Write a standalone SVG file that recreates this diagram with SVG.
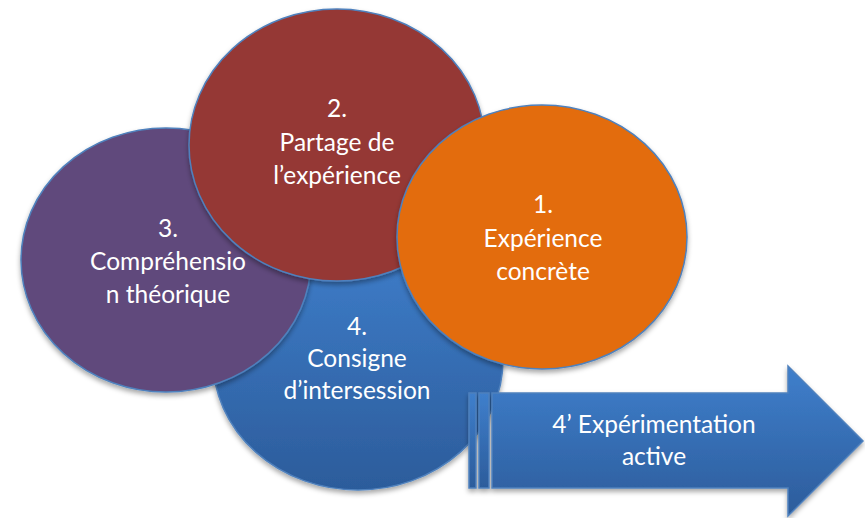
<svg xmlns="http://www.w3.org/2000/svg" width="865" height="518" viewBox="0 0 865 518">
<defs>
<linearGradient id="blueGrad" x1="0" y1="0" x2="0" y2="1">
<stop offset="0" stop-color="#3F7FCC"/>
<stop offset="1" stop-color="#2C5C9B"/>
</linearGradient>
<filter id="shadow" x="-10%" y="-10%" width="120%" height="125%">
<feDropShadow dx="0" dy="3" stdDeviation="2.5" flood-color="#000" flood-opacity="0.35"/>
</filter>
<style>
.shape{stroke:#4F81BD;stroke-width:1.5;filter:url(#shadow)}
.lbl{font-family:Lato,"Open Sans","Liberation Sans",sans-serif;font-size:24.5px;fill:#FFFFFF;text-anchor:middle}
</style>
</defs>
<rect width="865" height="518" fill="#FFFFFF"/>
<g id="node4">
<ellipse class="shape" cx="358" cy="360" rx="145" ry="130" fill="url(#blueGrad)"/>
<text class="lbl" x="357" y="335">4.</text>
<text class="lbl" x="357" y="367">Consigne</text>
<text class="lbl" x="357" y="399">d’intersession</text>
</g>
<g id="node3">
<ellipse class="shape" cx="166" cy="260" rx="145" ry="132" fill="#604A7B"/>
<text class="lbl" x="168" y="237">3.</text>
<text class="lbl" x="168" y="270">Compréhensio</text>
<text class="lbl" x="168" y="303">n théorique</text>
</g>
<g id="node2">
<ellipse class="shape" cx="337" cy="145" rx="148" ry="136" fill="#953735"/>
<text class="lbl" x="337" y="117">2.</text>
<text class="lbl" x="337" y="151">Partage de</text>
<text class="lbl" x="337" y="184">l’expérience</text>
</g>
<g id="node1">
<ellipse class="shape" cx="542" cy="237" rx="145" ry="132" fill="#E36C0A"/>
<text class="lbl" x="543" y="213">1.</text>
<text class="lbl" x="543" y="247">Expérience</text>
<text class="lbl" x="543" y="280">concrète</text>
</g>
<g id="node4prime">
<g class="shape">
<rect x="469" y="393" width="7" height="95" fill="url(#blueGrad)"/>
<rect x="479" y="393" width="10" height="95" fill="url(#blueGrad)"/>
<polygon points="492,393 788,393 788,366 863,441 788,516 788,488 492,488" fill="url(#blueGrad)"/>
</g>
<text class="lbl" x="654" y="433">4’ Expérimentation</text>
<text class="lbl" x="654" y="465">active</text>
</g>
<g id="connectors"/>
</svg>
